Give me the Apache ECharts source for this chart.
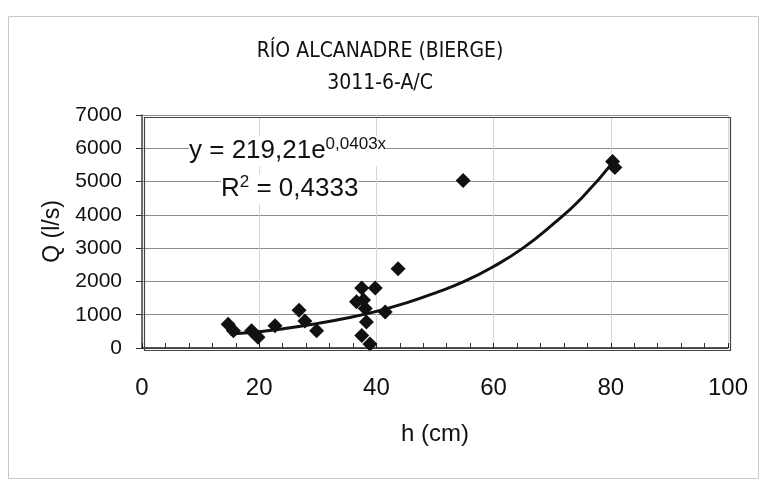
<!DOCTYPE html>
<html>
<head>
<meta charset="utf-8">
<script src="https://cdn.jsdelivr.net/npm/echarts@6/dist/echarts.min.js"></script>
<style>
  html, body { margin: 0; padding: 0; background: #fff; }
  #chart { width: 760px; height: 484px; }
</style>
</head>
<body>
<div id="chart"></div>
<script>
  // measured points, h (cm) / Q (l/s)
  var hValues = [14.7, 15.6, 18.7, 19.8, 22.7, 26.8, 27.8, 29.8,
    36.6, 37.5, 37.8, 38.1, 38.3, 37.5, 38.9, 39.8, 41.5, 43.7, 54.8, 80.3, 80.7];
  var qValues = [715, 520, 520, 320, 665, 1135, 810, 520,
    1390, 1800, 1440, 1190, 780, 375, 120, 1800, 1085, 2380, 5030, 5600, 5420];

  // trend curve
  var trendH = [15, 20, 25, 30, 35, 40, 45, 50, 55, 60, 65, 70, 75, 80.7];
  var trendQ = [420, 490, 600, 740, 900, 1100, 1350, 1650, 2000, 2450, 3000, 3700, 4500, 5650];

  var xTicks = [0, 20, 40, 60, 80, 100];
  var yTicks = [0, 1000, 2000, 3000, 4000, 5000, 6000, 7000];

  var titleText = 'RÍO ALCANADRE (BIERGE)\n3011-6-A/C';
  var fontFamily = '"Liberation Sans", Arial, sans-serif';
  var narrowFont = '"Liberation Sans Narrow", "DejaVu Sans Condensed", "Liberation Sans", sans-serif';
  var ink = '#111';

  var chart = echarts.init(document.getElementById('chart'));

  var points = hValues.map(function (h, i) { return [h, qValues[i]]; });
  var trend = trendH.map(function (h, i) { return [h, trendQ[i]]; });

  chart.setOption({
    backgroundColor: '#fff',
    animation: false,
    title: {
      text: titleText,
      left: 'center',
      top: 31,
      textStyle: {
        fontFamily: narrowFont,
        fontSize: 21,
        fontWeight: 'normal',
        color: ink,
        lineHeight: 32
      }
    },
    grid: {
      left: 142,
      right: 32,
      top: 115,
      bottom: 136
    },
    xAxis: {
      type: 'value',
      min: xTicks[0],
      max: xTicks[xTicks.length - 1],
      interval: 20,
      name: 'h (cm)',
      nameLocation: 'middle',
      nameGap: 74,
      nameTextStyle: { fontFamily: fontFamily, fontSize: 24, color: ink },
      axisLine: { show: true, lineStyle: { color: '#222', width: 1.5 } },
      axisTick: { show: true, inside: true, length: 5, lineStyle: { color: '#222' } },
      minorTick: { show: true, splitNumber: 5, length: 5, lineStyle: { color: '#333' } },
      axisLabel: { fontFamily: fontFamily, fontSize: 24, color: ink, margin: 28 },
      splitLine: { show: true, lineStyle: { color: '#d6d6d6', width: 1 } }
    },
    yAxis: {
      type: 'value',
      min: yTicks[0],
      max: yTicks[yTicks.length - 1],
      interval: 1000,
      name: 'Q (l/s)',
      nameLocation: 'middle',
      nameGap: 68,
      nameRotate: 90,
      nameTextStyle: { fontFamily: fontFamily, fontSize: 23, color: ink },
      axisLine: { show: true, lineStyle: { color: '#444', width: 1.5 } },
      axisTick: { show: true, length: 6, lineStyle: { color: '#333' } },
      axisLabel: {
        fontFamily: fontFamily, fontSize: 21, color: ink, margin: 20,
        formatter: function (v) { return String(v); }
      },
      splitLine: { show: true, lineStyle: { color: '#8a8a8a', width: 1 } }
    },
    graphic: [
      {
        type: 'rect',
        left: 6,
        top: 14,
        shape: { width: 750, height: 462 },
        style: { fill: 'none', stroke: '#c8c8c8', lineWidth: 1 },
        silent: true
      },
      {
        type: 'rect',
        left: 142,
        top: 115,
        shape: { width: 586, height: 233 },
        style: { fill: 'none', stroke: '#444', lineWidth: 1.2 },
        silent: true,
        z: 5
      },
      {
        type: 'text',
        left: 189,
        top: 136,
        style: {
          text: '{m|y = 219,21e}{s|0,0403x}',
          rich: {
            m: { fontFamily: fontFamily, fontSize: 26, fill: ink, lineHeight: 30 },
            s: { fontFamily: fontFamily, fontSize: 17, fill: ink, verticalAlign: 'top', lineHeight: 24 }
          },
          backgroundColor: '#fff'
        },
        z: 10
      },
      {
        type: 'text',
        left: 221,
        top: 174,
        style: {
          text: '{m|R}{s|2}{m| = 0,4333}',
          rich: {
            m: { fontFamily: fontFamily, fontSize: 26, fill: ink, lineHeight: 30 },
            s: { fontFamily: fontFamily, fontSize: 17, fill: ink, verticalAlign: 'top', lineHeight: 24 }
          },
          backgroundColor: '#fff'
        },
        z: 10
      }
    ],
    series: [
      {
        name: 'Trend',
        type: 'line',
        data: trend,
        smooth: true,
        showSymbol: false,
        lineStyle: { color: ink, width: 3 },
        z: 3
      },
      {
        name: 'Q',
        type: 'scatter',
        data: points,
        symbol: 'diamond',
        symbolSize: 15,
        itemStyle: { color: ink, opacity: 1 },
        z: 4
      }
    ]
  });
</script>
</body>
</html>
